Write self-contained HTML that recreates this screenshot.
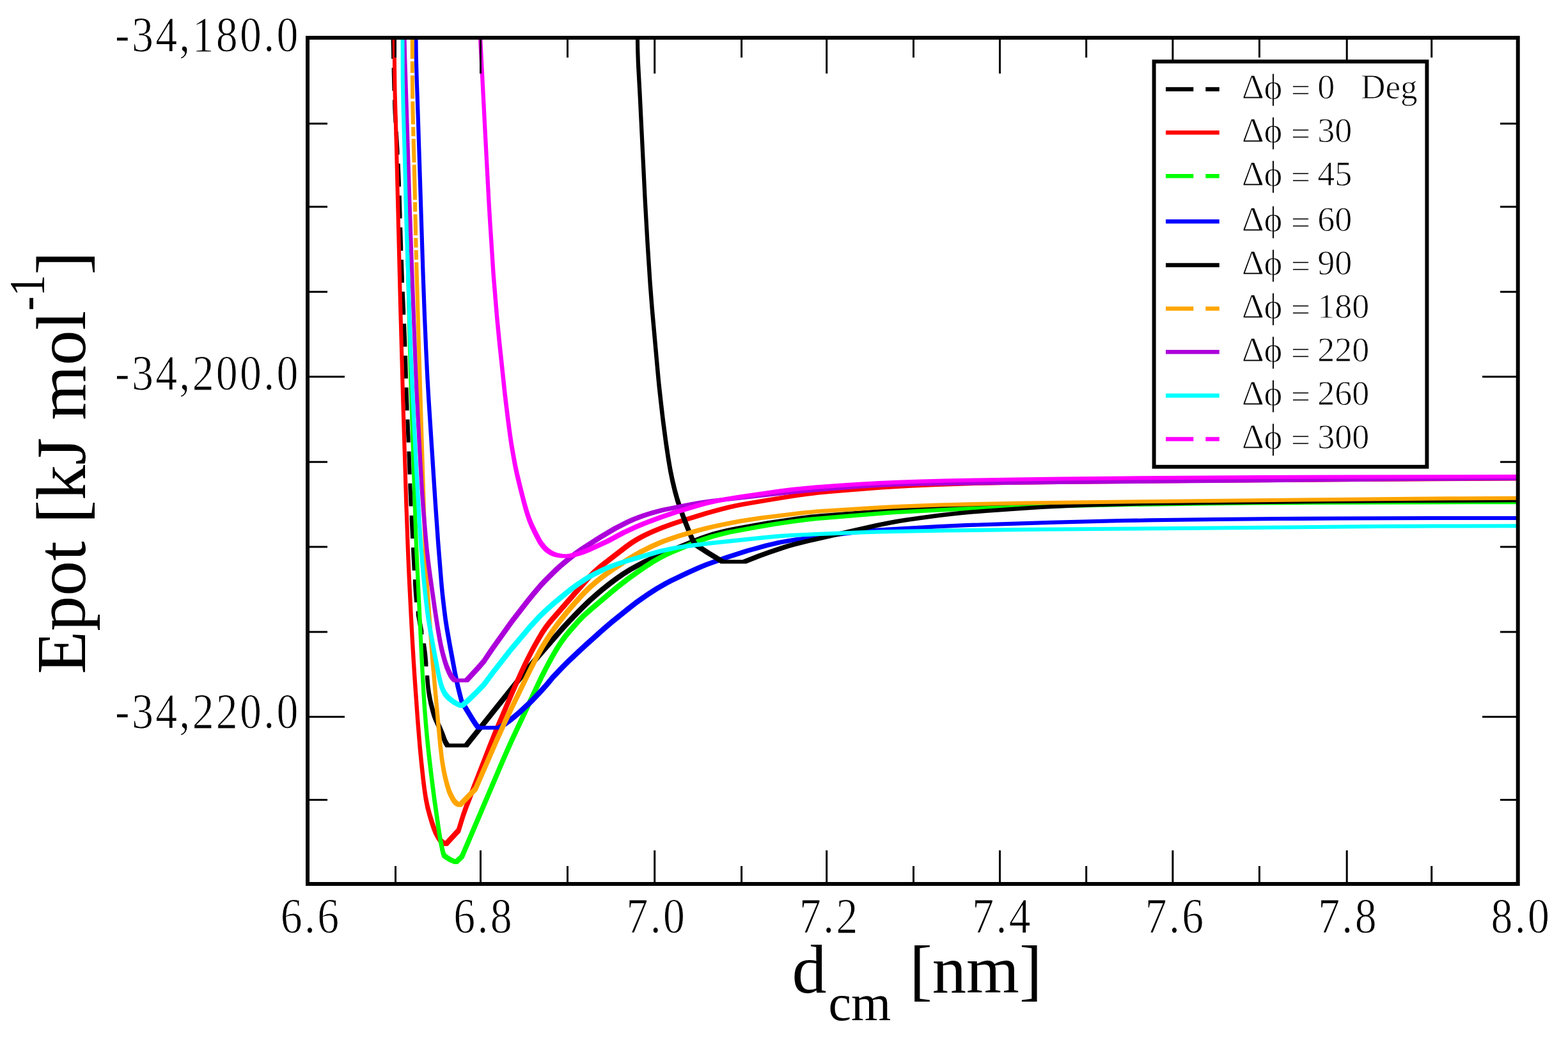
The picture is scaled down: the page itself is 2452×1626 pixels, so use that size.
<!DOCTYPE html>
<html lang="en">
<head>
<meta charset="utf-8">
<title>Epot vs d_cm</title>
<style>
html,body{margin:0;padding:0;background:#fff;}
body{width:2452px;height:1626px;overflow:hidden;}
svg{display:block;}
text{font-family:"Liberation Serif","DejaVu Serif",serif;fill:#000;white-space:pre;}
.cv path{stroke:none;}
</style>
</head>
<body>
<svg width="2452" height="1626" viewBox="0 0 2452 1626">
<rect width="2452" height="1626" fill="#fff"/>
<defs><clipPath id="pc"><rect x="481" y="59" width="1892.7" height="1323"/></clipPath></defs>
<g class="cv" clip-path="url(#pc)">
<path d="M611.3 47h6l0.9 39v6h-6l-0.9 -39zM612.7 106h6l0.7 29.9v6h-6l-0.7 -29.9zM614 155.9h6l0.6 15v6h-6l-0.6 -15zM614.6 170.9h6l0.9 15v6h-6l-0.9 -15zM616.8 205.8h6l1.8 30v6h-6l-1.8 -30zM619.7 255.7h6l1.3 30v6h-6l-1.3 -30zM621.7 305.7h6l0.9 29.9v6h-6l-0.9 -29.9zM623.2 355.6h6l1 30.5v6h-6l-1 -30.5zM624.9 406.1h6l1.1 29.9v6h-6l-1.1 -29.9zM626.8 456h6l1.4 30v6h-6l-1.4 -30zM629.1 505.9h6l1.2 30v6h-6l-1.2 -30zM631 555.9h6l0.9 29.9v6h-6l-0.9 -29.9zM632.5 605.8h6l1.1 30v6h-6l-1.1 -30zM634.4 655.8h6l1.3 29.9v6h-6l-1.3 -29.9zM636.5 705.7h6l1.1 30v6h-6l-1.1 -30zM638.3 755.7h6l1.3 29.9v6h-6l-1.3 -29.9zM640.6 806.1h6l1.5 29.9v6h-6l-1.5 -29.9zM643.1 856h6l1.6 29.9v6h-6l-1.6 -29.9zM645.9 905.9h6l1.1 17v6h-6l-1.1 -17zM647 922.9h6l1.1 12.9v6h-6l-1.1 -12.9zM650.7 955.6h6l5.7 30.5v6h-6l-5.7 -30.5zM659.9 1005.8h6l2 14.3v6h-6l-2 -14.3zM661.9 1020.1h6l1.5 15.9v6h-6l-1.5 -15.9zM665.1 1056h6l1.4 15.9v6h-6l-1.4 -15.9zM666.5 1071.9h6l1.5 10.9v6h-6l-1.5 -10.9zM668 1082.8h6l2.4 12.2v6h-6l-2.4 -12.2zM670.4 1095h6l3.3 13.1v6h-6l-3.3 -13.1zM673.7 1108.1h6l1.7 5.7v6h-6l-1.7 -5.7zM675.4 1113.8h6l2.1 5.6v6h-6l-2.1 -5.6zM677.5 1119.4h6l8.6 19.1v6h-6l-8.6 -19.1zM686.1 1138.5h6l3 7.3v6h-6l-3 -7.3zM689.1 1145.8h6l3.6 9.6v6h-6l-3.6 -9.6zM692.7 1155.4h6l1.8 3.7v6h-6l-1.8 -3.7zM694.5 1159.1h6l2.3 3.5v6h-6l-2.3 -3.5zM696.8 1162.6h35.2v6h-35.2zM726 1162.6l78 -97.7h6v6l-78 97.7h-6zM804 1064.9l14.1 -17.5h6v6l-14.1 17.5h-6zM818.1 1047.4l15.5 -18.3h6v6l-15.5 18.3h-6zM833.6 1029.1l43.9 -50.6h6v6l-43.9 50.6h-6zM877.5 978.5l9.5 -10.3h6v6l-9.5 10.3h-6zM887 968.2l12.5 -12.9h6v6l-12.5 12.9h-6zM899.5 955.3l10.2 -10.3h6v6l-10.2 10.3h-6zM909.7 945l9.4 -8.9h6v6l-9.4 8.9h-6zM919.1 936.1l9.3 -8.4h6v6l-9.3 8.4h-6zM928.4 927.7l9.9 -8.4h6v6l-9.9 8.4h-6zM938.3 919.3l11.3 -9.1h6v6l-11.3 9.1h-6zM949.6 910.2l9.6 -7.3h6v6l-9.6 7.3h-6zM959.2 902.9l11 -7.6h6v6l-11 7.6h-6zM970.2 895.3l12.3 -7.8h6v6l-12.3 7.8h-6zM982.5 887.5l11.8 -6.6h6v6l-11.8 6.6h-6zM994.3 880.9l12 -6.1h6v6l-12 6.1h-6zM1006.3 874.8l12.3 -5.6h6v6l-12.3 5.6h-6zM1018.6 869.2l16.5 -7h6v6l-16.5 7h-6zM1035.1 862.2l49.6 -20.3h6v6l-49.6 20.3h-6zM1084.7 841.9l10.2 -3.9h6v6l-10.2 3.9h-6zM1094.9 838l9.5 -3.3h6v6l-9.5 3.3h-6zM1104.4 834.7l10 -3.1h6v6l-10 3.1h-6zM1114.4 831.6l10.6 -2.8h6v6l-10.6 2.8h-6zM1125 828.8l10.2 -2.5h6v6l-10.2 2.5h-6zM1135.2 826.3l9.8 -2.1h6v6l-9.8 2.1h-6zM1145 824.2l11.8 -2.2h6v6l-11.8 2.2h-6zM1156.8 822l28 -5.1h6v6l-28 5.1h-6zM1184.8 816.9l16.8 -2.9h6v6l-16.8 2.9h-6zM1201.6 814l17.3 -2.6h6v6l-17.3 2.6h-6zM1218.9 811.4l28.2 -4.1h6v6l-28.2 4.1h-6zM1247.1 807.3l11.9 -1.6h6v6l-11.9 1.6h-6zM1259 805.7l9.9 -1.1h6v6l-9.9 1.1h-6zM1268.9 804.6l14.4 -1.3h6v6l-14.4 1.3h-6zM1283.3 803.3l99.2 -7.8h6v6l-99.2 7.8h-6zM1382.5 795.5l34.4 -2.2h6v6l-34.4 2.2h-6zM1416.9 793.3l46.5 -2.3h6v6l-46.5 2.3h-6zM1463.4 791l47.9 -1.9h6v6l-47.9 1.9h-6zM1511.3 789.1l53 -1.8h6v6l-53 1.8h-6zM1564.3 787.3l51.4 -1.3h6v6l-51.4 1.3h-6zM1615.7 786l57.5 -1.2h6v6l-57.5 1.2h-6zM1673.2 784.8l67.5 -1.1h6v6l-67.5 1.1h-6zM1740.7 783.7l64 -0.8h6v6l-64 0.8h-6zM1804.7 782.9l362.9 -2.7h6v6l-362.9 2.7h-6zM2167.6 780.2l209.4 -0.9h6v6l-209.4 0.9h-6z" fill="#000000"/>
<path d="M613.6 47h6l0.4 58v6h-6l-0.4 -58zM614 105h6l0.6 38.5v6h-6l-0.6 -38.5zM614.6 143.5h6l2.2 76.9v6h-6l-2.2 -76.9zM616.8 220.4h6l6.1 246.9v6h-6l-6.1 -246.9zM622.9 467.3h6l4.2 151.3v6h-6l-4.2 -151.3zM627.1 618.6h6l5.1 163.9v6h-6l-5.1 -163.9zM632.2 782.5h6l2.9 79.4v6h-6l-2.9 -79.4zM635.1 861.9h6l1.7 39v6h-6l-1.7 -39zM636.8 900.9h6l3 59.9v6h-6l-3 -59.9zM639.8 960.8h6l2 36.4v6h-6l-2 -36.4zM641.8 997.2h6l2 33.5v6h-6l-2 -33.5zM643.8 1030.7h6l1.9 29.4v6h-6l-1.9 -29.4zM645.7 1060.1h6l4.6 64.3v6h-6l-4.6 -64.3zM650.3 1124.4h6l3.4 41.3v6h-6l-3.4 -41.3zM653.7 1165.7h6l2.2 22.9v6h-6l-2.2 -22.9zM655.9 1188.6h6l3.1 28.4v6h-6l-3.1 -28.4zM659 1217h6l1.9 15.3v6h-6l-1.9 -15.3zM660.9 1232.3h6l1.9 12.4v6h-6l-1.9 -12.4zM662.8 1244.7h6l2.5 12.7v6h-6l-2.5 -12.7zM665.3 1257.4h6l3.4 13.1v6h-6l-3.4 -13.1zM668.7 1270.5h6l4.5 14.8v6h-6l-4.5 -14.8zM673.2 1285.3h6l2.2 6.1v6h-6l-2.2 -6.1zM675.4 1291.4h6l2 5.1v6h-6l-2 -5.1zM677.4 1296.5h6l1.9 4v6h-6l-1.9 -4zM679.3 1300.5h6l2.3 4.3v6h-6l-2.3 -4.3zM681.6 1304.8h6l2 3.2v6h-6l-2 -3.2zM683.6 1308h6l2 2.8v6h-6l-2 -2.8zM685.6 1310.8h6l1.7 1.8v6h-6l-1.7 -1.8zM687.3 1312.6h6l1.9 1.5v6h-6l-1.9 -1.5zM689.2 1314.1h6l2.2 1.4v6h-6l-2.2 -1.4zM691.4 1315.5h6l2.4 1.1v6h-6l-2.4 -1.1zM693.8 1316.6h6l0.5 0.2v6h-6l-0.5 -0.2zM694.3 1316.8l11.5 -12.6h6v6l-11.5 12.6h-6zM705.8 1304.2l8.2 -8.7h6v6l-8.2 8.7h-6zM714 1295.5l7.4 -23.9h6v6l-7.4 23.9h-6zM721.4 1271.6l4.4 -12.7h6v6l-4.4 12.7h-6zM725.8 1258.9l37.3 -96h6v6l-37.3 96h-6zM763.1 1162.9l8.4 -20.9h6v6l-8.4 20.9h-6zM771.5 1142l25.9 -60.7h6v6l-25.9 60.7h-6zM797.4 1081.3l8.1 -18.3h6v6l-8.1 18.3h-6zM805.5 1063l7.2 -16h6v6l-7.2 16h-6zM812.7 1047l5.9 -12.6h6v6l-5.9 12.6h-6zM818.6 1034.4l6.3 -12.5h6v6l-6.3 12.5h-6zM824.9 1021.9l6.8 -12.9h6v6l-6.8 12.9h-6zM831.7 1009l7.1 -12.6h6v6l-7.1 12.6h-6zM838.8 996.4l6.2 -10.3h6v6l-6.2 10.3h-6zM845 986.1l5.6 -8.3h6v6l-5.6 8.3h-6zM850.6 977.8l4.8 -6.3h6v6l-4.8 6.3h-6zM855.4 971.5l5.4 -6.6h6v6l-5.4 6.6h-6zM860.8 964.9l55 -62.8h6v6l-55 62.8h-6zM915.8 902.1l5.2 -5.4h6v6l-5.2 5.4h-6zM921 896.7l4.9 -4.9h6v6l-4.9 4.9h-6zM925.9 891.8l5.6 -5.1h6v6l-5.6 5.1h-6zM931.5 886.7l6.1 -5.1h6v6l-6.1 5.1h-6zM937.6 881.6l39.2 -30.4h6v6l-39.2 30.4h-6zM976.8 851.2l7.7 -5.4h6v6l-7.7 5.4h-6zM984.5 845.8l8 -5h6v6l-8 5h-6zM992.5 840.8l5.7 -3.2h6v6l-5.7 3.2h-6zM998.2 837.6l6.2 -3.3h6v6l-6.2 3.3h-6zM1004.4 834.3l6.7 -3.2h6v6l-6.7 3.2h-6zM1011.1 831.1l7.3 -3.3h6v6l-7.3 3.3h-6zM1018.4 827.8l15.3 -6.3h6v6l-15.3 6.3h-6zM1033.7 821.5l16 -5.8h6v6l-16 5.8h-6zM1049.7 815.7l12.8 -4.1h6v6l-12.8 4.1h-6zM1062.5 811.6l40.7 -12.5h6v6l-40.7 12.5h-6zM1103.2 799.1l18.2 -5.2h6v6l-18.2 5.2h-6zM1121.4 793.9l14.6 -3.7h6v6l-14.6 3.7h-6zM1136 790.2l11.2 -2.5h6v6l-11.2 2.5h-6zM1147.2 787.7l12.8 -2.4h6v6l-12.8 2.4h-6zM1160 785.3l34 -5.8h6v6l-34 5.8h-6zM1194 779.5l29.1 -4.8h6v6l-29.1 4.8h-6zM1223.1 774.7l17.3 -2.7h6v6l-17.3 2.7h-6zM1240.4 772l16.8 -2.3h6v6l-16.8 2.3h-6zM1257.2 769.7l15.9 -1.9h6v6l-15.9 1.9h-6zM1273.1 767.8l15.9 -1.6h6v6l-15.9 1.6h-6zM1289 766.2l20.9 -1.7h6v6l-20.9 1.7h-6zM1309.9 764.5l62.9 -4.9h6v6l-62.9 4.9h-6zM1372.8 759.6l20.9 -1.4h6v6l-20.9 1.4h-6zM1393.7 758.2l25.5 -1.5h6v6l-25.5 1.5h-6zM1419.2 756.7l41.4 -1.8h6v6l-41.4 1.8h-6zM1460.6 754.9l59 -1.8h6v6l-59 1.8h-6zM1519.6 753.1l51 -1.1h6v6l-51 1.1h-6zM1570.6 752l77.5 -1.1h6v6l-77.5 1.1h-6zM1648.1 750.9l172.4 -1.6h6v6l-172.4 1.6h-6zM1820.5 749.3l307 -2.3h6v6l-307 2.3h-6zM2127.5 747l249.5 -1.5h6v6l-249.5 1.5h-6z" fill="#ff0000"/>
<path d="M627.3 47h6l1.5 87v6h-6l-1.5 -87zM628.8 134h6l1.8 88.9v6h-6l-1.8 -88.9zM630.6 222.9h6l7 304.9v6h-6l-7 -304.9zM637.6 527.8h6l1.8 65v6h-6l-1.8 -65zM639.4 592.8h6l7.1 216.9v6h-6l-7.1 -216.9zM646.5 809.7h6l1.3 37.4v6h-6l-1.3 -37.4zM647.8 847.1h6l8.7 179.8v6h-6l-8.7 -179.8zM656.5 1026.9h6l2.8 51.4v6h-6l-2.8 -51.4zM659.3 1078.3h6l1.7 25.9v6h-6l-1.7 -25.9zM661 1104.2h6l2 25v6h-6l-2 -25zM663 1129.2h6l2.2 24.4v6h-6l-2.2 -24.4zM665.2 1153.6h6l2.3 21.8v6h-6l-2.3 -21.8zM667.5 1175.4h6l4.6 38.8v6h-6l-4.6 -38.8zM672.1 1214.2h6l4 31.2v6h-6l-4 -31.2zM676.1 1245.4h6l7 49v6h-6l-7 -49zM683.1 1294.4h6l2.5 15.8v6h-6l-2.5 -15.8zM685.6 1310.2h6l3 14.9v6h-6l-3 -14.9zM688.6 1325.1h6l1.1 4.4v6h-6l-1.1 -4.4zM689.7 1329.5h6l1.6 5v6h-6l-1.6 -5zM691.3 1334.5h6l2.9 2.2v6h-6l-2.9 -2.2zM694.2 1336.7h6l3 2v6h-6l-3 -2zM697.2 1338.7h6l5.7 3.2v6h-6l-5.7 -3.2zM702.9 1341.9h6l3.7 1.7v6h-6l-3.7 -1.7zM706.6 1343.6h6l3.4 1.3v6h-6l-3.4 -1.3zM710 1344.9l9.5 -8.9h6v6l-9.5 8.9h-6zM719.5 1336l61.9 -145.4h6v6l-61.9 145.4h-6zM781.4 1190.6l8.7 -20.2h6v6l-8.7 20.2h-6zM790.1 1170.4l7.4 -16.3h6v6l-7.4 16.3h-6zM797.5 1154.1l40.1 -85.6h6v6l-40.1 85.6h-6zM837.6 1068.5l5.8 -12.2h6v6l-5.8 12.2h-6zM843.4 1056.3l6.1 -12.1h6v6l-6.1 12.1h-6zM849.5 1044.2l5.8 -11h6v6l-5.8 11h-6zM855.3 1033.2l5.6 -10.1h6v6l-5.6 10.1h-6zM860.9 1023.1l5.5 -9.5h6v6l-5.5 9.5h-6zM866.4 1013.6l5.3 -8.5h6v6l-5.3 8.5h-6zM871.7 1005.1l4.8 -7h6v6l-4.8 7h-6zM876.5 998.1l5 -6.8h6v6l-5 6.8h-6zM881.5 991.3l8 -9.6h6v6l-8 9.6h-6zM889.5 981.7l11.6 -13.1h6v6l-11.6 13.1h-6zM901.1 968.6l8 -8.3h6v6l-8 8.3h-6zM909.1 960.3l7.7 -7.1h6v6l-7.7 7.1h-6zM916.8 953.2l32.8 -27.7h6v6l-32.8 27.7h-6zM949.6 925.5l13.5 -11.2h6v6l-13.5 11.2h-6zM963.1 914.3l16.3 -12.5h6v6l-16.3 12.5h-6zM979.4 901.8l15.4 -11.1h6v6l-15.4 11.1h-6zM994.8 890.7l12.4 -8.5h6v6l-12.4 8.5h-6zM1007.2 882.2l10.5 -6.7h6v6l-10.5 6.7h-6zM1017.7 875.5l9.1 -5.3h6v6l-9.1 5.3h-6zM1026.8 870.2l8.8 -4.6h6v6l-8.8 4.6h-6zM1035.6 865.6l12.7 -5.8h6v6l-12.7 5.8h-6zM1048.3 859.8l30.6 -12.6h6v6l-30.6 12.6h-6zM1078.9 847.2l11.1 -4.5h6v6l-11.1 4.5h-6zM1090 842.7l9.4 -3.3h6v6l-9.4 3.3h-6zM1099.4 839.4l11.4 -3.6h6v6l-11.4 3.6h-6zM1110.8 835.8l12.6 -3.4h6v6l-12.6 3.4h-6zM1123.4 832.4l12.2 -2.9h6v6l-12.2 2.9h-6zM1135.6 829.5l13.2 -2.6h6v6l-13.2 2.6h-6zM1148.8 826.9l36.9 -6.6h6v6l-36.9 6.6h-6zM1185.7 820.3l22.2 -3.7h6v6l-22.2 3.7h-6zM1207.9 816.6l25.7 -3.8h6v6l-25.7 3.8h-6zM1233.6 812.8l24.8 -3.3h6v6l-24.8 3.3h-6zM1258.4 809.5l11.4 -1.2h6v6l-11.4 1.2h-6zM1269.8 808.3l12.5 -1.1h6v6l-12.5 1.1h-6zM1282.3 807.2l72.7 -6h6v6l-72.7 6h-6zM1355 801.2l33.4 -2.6h6v6l-33.4 2.6h-6zM1388.4 798.6l37.4 -2.2h6v6l-37.4 2.2h-6zM1425.8 796.4l68.5 -3.4h6v6l-68.5 3.4h-6zM1494.3 793l30.9 -1.2h6v6l-30.9 1.2h-6zM1525.2 791.8l38 -1.3h6v6l-38 1.3h-6zM1563.2 790.5l87.9 -2.3h6v6l-87.9 2.3h-6zM1651.1 788.2l99 -2h6v6l-99 2h-6zM1750.1 786.2l109 -1.5h6v6l-109 1.5h-6zM1859.1 784.7l95 -1.1h6v6l-95 1.1h-6zM1954.1 783.6l83 -0.5h6v6l-83 0.5h-6zM2037.1 783.1l187.4 -0.7h6v6l-187.4 0.7h-6zM2224.5 782.4l152.5 -0.2h6v6l-152.5 0.2h-6z" fill="#00ff00"/>
<path d="M647.4 47h6l0.4 39.5v6h-6l-0.4 -39.5zM647.8 86.5h6l0.8 31.5v6h-6l-0.8 -31.5zM648.6 118h6l1.9 54.5v6h-6l-1.9 -54.5zM650.5 172.5h6l8.1 253.8v6h-6l-8.1 -253.8zM658.6 426.3h6l2.3 63v6h-6l-2.3 -63zM660.9 489.3h6l2.5 57.4v6h-6l-2.5 -57.4zM663.4 546.7h6l1.9 39v6h-6l-1.9 -39zM665.3 585.7h6l2 34.9v6h-6l-2 -34.9zM667.3 620.6h6l10.6 164.2v6h-6l-10.6 -164.2zM677.9 784.8h6l4.3 61.3v6h-6l-4.3 -61.3zM682.2 846.1h6l5.3 65.3v6h-6l-5.3 -65.3zM687.5 911.4h6l1.7 17.4v6h-6l-1.7 -17.4zM689.2 928.8h6l2.7 22.9v6h-6l-2.7 -22.9zM691.9 951.7h6l1.9 14.8v6h-6l-1.9 -14.8zM693.8 966.5h6l2.1 13.4v6h-6l-2.1 -13.4zM695.9 979.9h6l5.2 29.5v6h-6l-5.2 -29.5zM701.1 1009.4h6l7.9 42.3v6h-6l-7.9 -42.3zM709 1051.7h6l3.3 15.6v6h-6l-3.3 -15.6zM712.3 1067.3h6l3.9 15.8v6h-6l-3.9 -15.8zM716.2 1083.1h6l2.8 10.9v6h-6l-2.8 -10.9zM719 1094h6l17.9 29.2v6h-6l-17.9 -29.2zM736.9 1123.2h6l3.8 5.7v6h-6l-3.8 -5.7zM740.7 1128.9h6l4.3 5.9v6h-6l-4.3 -5.9zM745 1134.8h39v6h-39zM778 1134.8l8.1 -5.5h6v6l-8.1 5.5h-6zM786.1 1129.3l8.6 -6.4h6v6l-8.6 6.4h-6zM794.7 1122.9l7.3 -5.9h6v6l-7.3 5.9h-6zM802 1117l7.6 -6.5h6v6l-7.6 6.5h-6zM809.6 1110.5l8.1 -7.4h6v6l-8.1 7.4h-6zM817.7 1103.1l8.3 -7.9h6v6l-8.3 7.9h-6zM826 1095.2l7.3 -7.5h6v6l-7.3 7.5h-6zM833.3 1087.7l7.6 -7.9h6v6l-7.6 7.9h-6zM840.9 1079.8l11.5 -12.9h6v6l-11.5 12.9h-6zM852.4 1066.9l9 -10.9h6v6l-9 10.9h-6zM861.4 1056l15.3 -15.9h6v6l-15.3 15.9h-6zM876.7 1040.1l9.5 -9.5h6v6l-9.5 9.5h-6zM886.2 1030.6l10.1 -9.7h6v6l-10.1 9.7h-6zM896.3 1020.9l16.1 -14.9h6v6l-16.1 14.9h-6zM912.4 1006l14.5 -13.1h6v6l-14.5 13.1h-6zM926.9 992.9l13.1 -11.6h6v6l-13.1 11.6h-6zM940 981.3l13.7 -11.7h6v6l-13.7 11.7h-6zM953.7 969.6l14.3 -11.7h6v6l-14.3 11.7h-6zM968 957.9l13.7 -10.9h6v6l-13.7 10.9h-6zM981.7 947l10.3 -7.9h6v6l-10.3 7.9h-6zM992 939.1l10.6 -7.6h6v6l-10.6 7.6h-6zM1002.6 931.5l10.7 -7.3h6v6l-10.7 7.3h-6zM1013.3 924.2l10.1 -6.5h6v6l-10.1 6.5h-6zM1023.4 917.7l7.3 -4.3h6v6l-7.3 4.3h-6zM1030.7 913.4l7.4 -4.1h6v6l-7.4 4.1h-6zM1038.1 909.3l8 -4.2h6v6l-8 4.2h-6zM1046.1 905.1l9 -4.4h6v6l-9 4.4h-6zM1055.1 900.7l17.2 -8.2h6v6l-17.2 8.2h-6zM1072.3 892.5l12.2 -5.6h6v6l-12.2 5.6h-6zM1084.5 886.9l9.7 -4.2h6v6l-9.7 4.2h-6zM1094.2 882.7l8.8 -3.5h6v6l-8.8 3.5h-6zM1103 879.2l12.7 -4.5h6v6l-12.7 4.5h-6zM1115.7 874.7l18.4 -6.4h6v6l-18.4 6.4h-6zM1134.1 868.3l31.9 -10.2h6v6l-31.9 10.2h-6zM1166 858.1l13 -3.7h6v6l-13 3.7h-6zM1179 854.4l16.9 -4.6h6v6l-16.9 4.6h-6zM1195.9 849.8l9.7 -2.4h6v6l-9.7 2.4h-6zM1205.6 847.4l10.7 -2.3h6v6l-10.7 2.3h-6zM1216.3 845.1l15.8 -2.9h6v6l-15.8 2.9h-6zM1232.1 842.2l14.3 -2.1h6v6l-14.3 2.1h-6zM1246.4 840.1l99.7 -12.3h6v6l-99.7 12.3h-6zM1346.1 827.8l17.4 -1.8h6v6l-17.4 1.8h-6zM1363.5 826l24 -1.6h6v6l-24 1.6h-6zM1387.5 824.4l80.3 -4.4h6v6l-80.3 4.4h-6zM1467.8 820l43 -1.9h6v6l-43 1.9h-6zM1510.8 818.1l55.4 -1.9h6v6l-55.4 1.9h-6zM1566.2 816.2l78 -2.4h6v6l-78 2.4h-6zM1644.2 813.8l107.4 -2.7h6v6l-107.4 2.7h-6zM1751.6 811.1l46.5 -0.8h6v6l-46.5 0.8h-6zM1798.1 810.3l100.5 -1.3h6v6l-100.5 1.3h-6zM1898.6 809l98 -0.9h6v6l-98 0.9h-6zM1996.6 808.1l90 -0.6h6v6l-90 0.6h-6zM2086.6 807.5l152.4 -0.4h6v6l-152.4 0.4h-6zM2239 807.1l138 -0.1h6v6l-138 0.1h-6z" fill="#0000ff"/>
<path d="M993.8 47h6l0.4 27v6h-6l-0.4 -27zM994.2 74h6l0.7 21.5v6h-6l-0.7 -21.5zM994.9 95.5h6l2.6 47.4v6h-6l-2.6 -47.4zM997.5 142.9h6l8.3 168.3v6h-6l-8.3 -168.3zM1005.8 311.2h6l3.7 65.3v6h-6l-3.7 -65.3zM1009.5 376.5h6l4.2 64.4v6h-6l-4.2 -64.4zM1013.7 440.9h6l3.1 39.8v6h-6l-3.1 -39.8zM1016.8 480.7h6l8.9 99.1v6h-6l-8.9 -99.1zM1025.7 579.8h6l1.8 18.9v6h-6l-1.8 -18.9zM1027.5 598.7h6l3.7 33.3v6h-6l-3.7 -33.3zM1031.2 632h6l2.7 22.9v6h-6l-2.7 -22.9zM1033.9 654.9h6l4.7 35.6v6h-6l-4.7 -35.6zM1038.6 690.5h6l3.4 22.8v6h-6l-3.4 -22.8zM1042 713.3h6l3.1 18.2v6h-6l-3.1 -18.2zM1045.1 731.5h6l3.3 16.2v6h-6l-3.3 -16.2zM1048.4 747.7h6l3.8 16v6h-6l-3.8 -16zM1052.2 763.7h6l4 14.5v6h-6l-4 -14.5zM1056.2 778.2h6l4.3 13.3v6h-6l-4.3 -13.3zM1060.5 791.5h6l6.6 17.8v6h-6l-6.6 -17.8zM1067.1 809.3h6l7.5 19v6h-6l-7.5 -19zM1074.6 828.3h6l4 9.5v6h-6l-4 -9.5zM1078.6 837.8h6l2.1 4.5v6h-6l-2.1 -4.5zM1080.7 842.3h6l3.8 6.2v6h-6l-3.8 -6.2zM1084.5 848.5h6l18.8 12.2v6h-6l-18.8 -12.2zM1103.3 860.7h6l23.7 14.6v6h-6l-23.7 -14.6zM1127 875.3h40v6h-40zM1161 875.3l22.8 -9h6v6l-22.8 9h-6zM1183.8 866.3l16 -5.8h6v6l-16 5.8h-6zM1199.8 860.5l20.8 -7.1h6v6l-20.8 7.1h-6zM1220.6 853.4l8.6 -2.6h6v6l-8.6 2.6h-6zM1229.2 850.8l8.2 -2.3h6v6l-8.2 2.3h-6zM1237.4 848.5l19.9 -4.9h6v6l-19.9 4.9h-6zM1257.3 843.6l71.6 -16.4h6v6l-71.6 16.4h-6zM1328.9 827.2l41 -9.1h6v6l-41 9.1h-6zM1369.9 818.1l17.6 -3.7h6v6l-17.6 3.7h-6zM1387.5 814.4l13.3 -2.4h6v6l-13.3 2.4h-6zM1400.8 812l14.3 -2.3h6v6l-14.3 2.3h-6zM1415.1 809.7l26.8 -3.7h6v6l-26.8 3.7h-6zM1441.9 806l20.3 -2.7h6v6l-20.3 2.7h-6zM1462.2 803.3l18.9 -2.2h6v6l-18.9 2.2h-6zM1481.1 801.1l18.9 -2h6v6l-18.9 2h-6zM1500 799.1l16.4 -1.5h6v6l-16.4 1.5h-6zM1516.4 797.6l19.4 -1.6h6v6l-19.4 1.6h-6zM1535.8 796l57.4 -4.1h6v6l-57.4 4.1h-6zM1593.2 791.9l30.4 -1.8h6v6l-30.4 1.8h-6zM1623.6 790.1l25 -1.3h6v6l-25 1.3h-6zM1648.6 788.8l35 -1.5h6v6l-35 1.5h-6zM1683.6 787.3l31 -1.1h6v6l-31 1.1h-6zM1714.6 786.2l67.9 -1.6h6v6l-67.9 1.6h-6zM1782.5 784.6l110 -1.7h6v6l-110 1.7h-6zM1892.5 782.9l179.5 -2h6v6l-179.5 2h-6zM2072 780.9l133.5 -0.9h6v6l-133.5 0.9h-6zM2205.5 780l171.5 -0.7h6v6l-171.5 0.7h-6z" fill="#000000"/>
<path d="M641.7 47h6l0.1 39v6h-6l-0.1 -39zM641.8 96h6v18h-6zM641.9 118h6l0.2 30.5v6h-6l-0.2 -30.5zM642.3 158.5h6l0.6 30v6h-6l-0.6 -30zM643.2 198.5h6l0.2 8.5v6h-6l-0.2 -8.5zM643.7 217h6l0.8 31v6h-6l-0.8 -31zM644.8 257.5h6l1.1 49v6h-6l-1.1 -49zM646.1 316h6l0.1 8.9v6h-6l-0.1 -8.9zM646.5 334.9h6l0.6 27v6h-6l-0.6 -27zM647.3 371.9h6l0.2 9v6h-6l-0.2 -9zM647.7 390.9h6l0.3 9v6h-6l-0.3 -9zM648.2 409.9h6l3.3 111v6h-6l-3.3 -111zM651.5 520.9h6l10.8 348.8v6h-6l-10.8 -348.8zM662.3 869.7h6l0.7 14v6h-6l-0.7 -14zM663 883.7h6l0.8 13.5v6h-6l-0.8 -13.5zM663.8 897.2h6l9.2 127.6v6h-6l-9.2 -127.6zM673 1024.8h6l8.7 97.1v6h-6l-8.7 -97.1zM681.7 1121.9h6l3.3 35.9v6h-6l-3.3 -35.9zM685 1157.8h6l2.7 23.8v6h-6l-2.7 -23.8zM687.7 1181.6h6l1.4 9.4v6h-6l-1.4 -9.4zM689.1 1191h6l1.6 9.4v6h-6l-1.6 -9.4zM690.7 1200.4h6l2.4 11.7v6h-6l-2.4 -11.7zM693.1 1212.1h6l2.6 10.2v6h-6l-2.6 -10.2zM695.7 1222.3h6l2.9 9.6v6h-6l-2.9 -9.6zM698.6 1231.9h6l2.7 6.9v6h-6l-2.7 -6.9zM701.3 1238.8h6l3.8 7.3v6h-6l-3.8 -7.3zM705.1 1246.1h6l1.5 2.4v6h-6l-1.5 -2.4zM706.6 1248.5h6l1.8 2.3v6h-6l-1.8 -2.3zM708.4 1250.8h6l1.7 1.8v6h-6l-1.7 -1.8zM710.1 1252.6h6l1.7 1.2v6h-6l-1.7 -1.2zM711.8 1253.8h6l2.2 1.3v6h-6l-2.2 -1.3zM714 1255.1h6l2 0.7v6h-6l-2 -0.7zM716 1255.8l24.5 -25.3h6v6l-24.5 25.3h-6zM740.5 1230.5l33.6 -77h6v6l-33.6 77h-6zM774.1 1153.5l12.9 -28.7h6v6l-12.9 28.7h-6zM787 1124.8l6.2 -13.1h6v6l-6.2 13.1h-6zM793.2 1111.7l28.4 -58.5h6v6l-28.4 58.5h-6zM821.6 1053.2l13.2 -26.3h6v6l-13.2 26.3h-6zM834.8 1026.9l5.5 -10.2h6v6l-5.5 10.2h-6zM840.3 1016.7l5.2 -9.1h6v6l-5.2 9.1h-6zM845.5 1007.6l5.5 -8.9h6v6l-5.5 8.9h-6zM851 998.7l6 -9.2h6v6l-6 9.2h-6zM857 989.5l6.9 -9.8h6v6l-6.9 9.8h-6zM863.9 979.7l6.8 -9.3h6v6l-6.8 9.3h-6zM870.7 970.4l7.4 -9.4h6v6l-7.4 9.4h-6zM878.1 961l7.9 -9.7h6v6l-7.9 9.7h-6zM886 951.3l11.8 -13.6h6v6l-11.8 13.6h-6zM897.8 937.7l10.4 -11.4h6v6l-10.4 11.4h-6zM908.2 926.3l9.2 -9.2h6v6l-9.2 9.2h-6zM917.4 917.1l9.3 -8.4h6v6l-9.3 8.4h-6zM926.7 908.7l8.9 -7.3h6v6l-8.9 7.3h-6zM935.6 901.4l10 -7.4h6v6l-10 7.4h-6zM945.6 894l10.7 -7.4h6v6l-10.7 7.4h-6zM956.3 886.6l20 -13.3h6v6l-20 13.3h-6zM976.3 873.3l11.5 -7.1h6v6l-11.5 7.1h-6zM987.8 866.2l11.3 -6.4h6v6l-11.3 6.4h-6zM999.1 859.8l12.4 -6.4h6v6l-12.4 6.4h-6zM1011.5 853.4l11.8 -5.5h6v6l-11.8 5.5h-6zM1023.3 847.9l10.6 -4.4h6v6l-10.6 4.4h-6zM1033.9 843.5l11.3 -4.1h6v6l-11.3 4.1h-6zM1045.2 839.4l13.3 -4.4h6v6l-13.3 4.4h-6zM1058.5 835l15.3 -4.6h6v6l-15.3 4.6h-6zM1073.8 830.4l15.9 -4.4h6v6l-15.9 4.4h-6zM1089.7 826l16.5 -4.2h6v6l-16.5 4.2h-6zM1106.2 821.8l17 -3.8h6v6l-17 3.8h-6zM1123.2 818l17.2 -3.6h6v6l-17.2 3.6h-6zM1140.4 814.4l15.7 -2.8h6v6l-15.7 2.8h-6zM1156.1 811.6l14.8 -2.4h6v6l-14.8 2.4h-6zM1170.9 809.2l16.3 -2.4h6v6l-16.3 2.4h-6zM1187.2 806.8l22.8 -2.9h6v6l-22.8 2.9h-6zM1210 803.9l44.7 -5.3h6v6l-44.7 5.3h-6zM1254.7 798.6l20.9 -2h6v6l-20.9 2h-6zM1275.6 796.6l87.8 -5.5h6v6l-87.8 5.5h-6zM1363.4 791.1l27 -1.5h6v6l-27 1.5h-6zM1390.4 789.6l21.9 -1.1h6v6l-21.9 1.1h-6zM1412.3 788.5l53 -1.9h6v6l-53 1.9h-6zM1465.3 786.6l57.5 -1.5h6v6l-57.5 1.5h-6zM1522.8 785.1l78.4 -1.5h6v6l-78.4 1.5h-6zM1601.2 783.6l94 -1.4h6v6l-94 1.4h-6zM1695.2 782.2l488.4 -5.3h6v6l-488.4 5.3h-6zM2183.6 776.9l81.9 -0.6h6v6l-81.9 0.6h-6zM2265.5 776.3l111.5 -0.5h6v6l-111.5 0.5h-6z" fill="#ffa500"/>
<path d="M629.5 47h6l0.3 23.5v6h-6l-0.3 -23.5zM629.8 70.5h6l0.5 20.5v6h-6l-0.5 -20.5zM630.3 91h6l1.7 51.4v6h-6l-1.7 -51.4zM632 142.4h6l5.5 172.9v6h-6l-5.5 -172.9zM637.5 315.3h6l3.2 90.9v6h-6l-3.2 -90.9zM640.7 406.2h6l6.3 168.8v6h-6l-6.3 -168.8zM647 575h6l1.7 38.5v6h-6l-1.7 -38.5zM648.7 613.5h6l5.8 109.8v6h-6l-5.8 -109.8zM654.5 723.3h6l2.3 39.4v6h-6l-2.3 -39.4zM656.8 762.7h6l2.1 29.4v6h-6l-2.1 -29.4zM658.9 792.1h6l4.3 50.3v6h-6l-4.3 -50.3zM663.2 842.4h6l1.9 19.4v6h-6l-1.9 -19.4zM665.1 861.8h6l1.9 16.4v6h-6l-1.9 -16.4zM667 878.2h6l3 22.3v6h-6l-3 -22.3zM670 900.5h6l6.7 47v6h-6l-6.7 -47zM676.7 947.5h6l4.7 30.6v6h-6l-4.7 -30.6zM681.4 978.1h6l3.3 19.2v6h-6l-3.3 -19.2zM684.7 997.3h6l2.2 11.3v6h-6l-2.2 -11.3zM686.9 1008.6h6l2.6 10.7v6h-6l-2.6 -10.7zM689.5 1019.3h6l3.2 11.5v6h-6l-3.2 -11.5zM692.7 1030.8h6l2.8 8.5v6h-6l-2.8 -8.5zM695.5 1039.3h6l3.5 8.2v6h-6l-3.5 -8.2zM699 1047.5h6l2.8 5.6v6h-6l-2.8 -5.6zM701.8 1053.1h6l3 4.1v6h-6l-3 -4.1zM704.8 1057.2h6l1.8 1.9v6h-6l-1.8 -1.9zM706.6 1059.1h6l1.9 1.7v6h-6l-1.9 -1.7zM708.5 1060.8h24v6h-24zM726.5 1060.8l4.3 -4.5h6v6l-4.3 4.5h-6zM730.8 1056.3l14.3 -15.5h6v6l-14.3 15.5h-6zM745.1 1040.8l8.9 -10.3h6v6l-8.9 10.3h-6zM754 1030.5l5.6 -8.6h6v6l-5.6 8.6h-6zM759.6 1021.9l7.5 -10.9h6v6l-7.5 10.9h-6zM767.1 1011l30 -41.9h6v6l-30 41.9h-6zM797.1 969.1l8.5 -11.1h6v6l-8.5 11.1h-6zM805.6 958l16.3 -20.9h6v6l-16.3 20.9h-6zM821.9 937.1l9.1 -11.3h6v6l-9.1 11.3h-6zM831 925.8l7 -8.4h6v6l-7 8.4h-6zM838 917.4l5.6 -6.4h6v6l-5.6 6.4h-6zM843.6 911l6.2 -6.5h6v6l-6.2 6.5h-6zM849.8 904.5l9.5 -9.6h6v6l-9.5 9.6h-6zM859.3 894.9l8 -7.6h6v6l-8 7.6h-6zM867.3 887.3l6.3 -5.7h6v6l-6.3 5.7h-6zM873.6 881.6l7.2 -6.2h6v6l-7.2 6.2h-6zM880.8 875.4l8.5 -6.9h6v6l-8.5 6.9h-6zM889.3 868.5l7.1 -5.5h6v6l-7.1 5.5h-6zM896.4 863l9.4 -6.7h6v6l-9.4 6.7h-6zM905.8 856.3l15 -9.9h6v6l-15 9.9h-6zM920.8 846.4l14.8 -9.4h6v6l-14.8 9.4h-6zM935.6 837l13.3 -8h6v6l-13.3 8h-6zM948.9 829l9.9 -5.7h6v6l-9.9 5.7h-6zM958.8 823.3l10.2 -5.4h6v6l-10.2 5.4h-6zM969 817.9l10.3 -5.1h6v6l-10.3 5.1h-6zM979.3 812.8l9.1 -4.1h6v6l-9.1 4.1h-6zM988.4 808.7l8.4 -3.3h6v6l-8.4 3.3h-6zM996.8 805.4l8.4 -3h6v6l-8.4 3h-6zM1005.2 802.4l9.6 -3h6v6l-9.6 3h-6zM1014.8 799.4l10.6 -2.9h6v6l-10.6 2.9h-6zM1025.4 796.5l9.7 -2.4h6v6l-9.7 2.4h-6zM1035.1 794.1l10.3 -2.2h6v6l-10.3 2.2h-6zM1045.4 791.9l33.9 -6.6h6v6l-33.9 6.6h-6zM1079.3 785.3l17.2 -3.1h6v6l-17.2 3.1h-6zM1096.5 782.2l16.3 -2.2h6v6l-16.3 2.2h-6zM1112.8 780l82.5 -9.3h6v6l-82.5 9.3h-6zM1195.3 770.7l44.7 -4.7h6v6l-44.7 4.7h-6zM1240 766l23.9 -2.2h6v6l-23.9 2.2h-6zM1263.9 763.8l68.8 -5.6h6v6l-68.8 5.6h-6zM1332.7 758.2l34.9 -2.3h6v6l-34.9 2.3h-6zM1367.6 755.9l27 -1.2h6v6l-27 1.2h-6zM1394.6 754.7l41.5 -1h6v6l-41.5 1h-6zM1436.1 753.7l49 -0.8h6v6l-49 0.8h-6zM1485.1 752.9l167 -2h6v6l-167 2h-6zM1652.1 750.9l328.9 -2.6h6v6l-328.9 2.6h-6zM1981 748.3l241 -2.3h6v6l-241 2.3h-6zM2222 746l72 -0.4h6v6l-72 0.4h-6zM2294 745.6l83 -0.3h6v6l-83 0.3h-6z" fill="#ac00da"/>
<path d="M626.5 47h6l0.2 71.5v6h-6l-0.2 -71.5zM626.7 118.5h6l0.7 38.5v6h-6l-0.7 -38.5zM627.4 157h6l2.1 71.9v6h-6l-2.1 -71.9zM629.5 228.9h6l3.3 128v6h-6l-3.3 -128zM632.8 356.9h6l5.9 175.8v6h-6l-5.9 -175.8zM638.7 532.7h6l3.4 77.9v6h-6l-3.4 -77.9zM642.1 610.6h6l6.2 123.4v6h-6l-6.2 -123.4zM648.3 734h6l5.4 93.3v6h-6l-5.4 -93.3zM653.7 827.3h6l1.8 26.9v6h-6l-1.8 -26.9zM655.5 854.2h6l1.9 23.9v6h-6l-1.9 -23.9zM657.4 878.1h6l2.1 23.4v6h-6l-2.1 -23.4zM659.5 901.5h6l2.8 26.4v6h-6l-2.8 -26.4zM662.3 927.9h6l2.5 21.8v6h-6l-2.5 -21.8zM664.8 949.7h6l2.1 15.4v6h-6l-2.1 -15.4zM666.9 965.1h6l3.3 19.7v6h-6l-3.3 -19.7zM670.2 984.8h6l7.8 42.3v6h-6l-7.8 -42.3zM678 1027.1h6l4.5 23v6h-6l-4.5 -23zM682.5 1050.1h6l3.2 13.7v6h-6l-3.2 -13.7zM685.7 1063.8h6l1.9 6.7v6h-6l-1.9 -6.7zM687.6 1070.5h6l2.2 5.5v6h-6l-2.2 -5.5zM689.8 1076h6l2.5 4.7v6h-6l-2.5 -4.7zM692.3 1080.7h6l2.8 3.9v6h-6l-2.8 -3.9zM695.1 1084.6h6l1.9 2.2v6h-6l-1.9 -2.2zM697 1086.8h6l2.1 2v6h-6l-2.1 -2zM699.1 1088.8h6l5.4 4.2v6h-6l-5.4 -4.2zM704.5 1093h6l5.2 3.4v6h-6l-5.2 -3.4zM709.7 1096.4h6l5.9 3v6h-6l-5.9 -3zM715.6 1099.4h6l3.4 1.4v6h-6l-3.4 -1.4zM719 1100.8l1.2 -1h6v6l-1.2 1h-6zM720.2 1099.8l7.2 -6.3h6v6l-7.2 6.3h-6zM727.4 1093.5l8.9 -8.4h6v6l-8.9 8.4h-6zM736.3 1085.1l9.3 -9.3h6v6l-9.3 9.3h-6zM745.6 1075.8l8.4 -8.8h6v6l-8.4 8.8h-6zM754 1067l15.3 -20.4h6v6l-15.3 20.4h-6zM769.3 1046.6l18.4 -23.7h6v6l-18.4 23.7h-6zM787.7 1022.9l7.8 -9.8h6v6l-7.8 9.8h-6zM795.5 1013.1l29.9 -35.5h6v6l-29.9 35.5h-6zM825.4 977.6l7.3 -8.2h6v6l-7.3 8.2h-6zM832.7 969.4l6.9 -7.3h6v6l-6.9 7.3h-6zM839.6 962.1l11.1 -10.8h6v6l-11.1 10.8h-6zM850.7 951.3l12.3 -11h6v6l-12.3 11h-6zM863 940.3l21.2 -17.5h6v6l-21.2 17.5h-6zM884.2 922.8l6.6 -5.3h6v6l-6.6 5.3h-6zM890.8 917.5l6.5 -4.7h6v6l-6.5 4.7h-6zM897.3 912.8l7.8 -5.4h6v6l-7.8 5.4h-6zM905.1 907.4l7.1 -4.6h6v6l-7.1 4.6h-6zM912.2 902.8l6.8 -4.2h6v6l-6.8 4.2h-6zM919 898.6l7 -3.8h6v6l-7 3.8h-6zM926 894.8l8 -4.1h6v6l-8 4.1h-6zM934 890.7l8.2 -3.9h6v6l-8.2 3.9h-6zM942.2 886.8l8.3 -3.5h6v6l-8.3 3.5h-6zM950.5 883.3l7.9 -3.1h6v6l-7.9 3.1h-6zM958.4 880.2l8 -2.8h6v6l-8 2.8h-6zM966.4 877.4l8.5 -2.7h6v6l-8.5 2.7h-6zM974.9 874.7l49.5 -14.5h6v6l-49.5 14.5h-6zM1024.4 860.2l8.2 -2.1h6v6l-8.2 2.1h-6zM1032.6 858.1l8.3 -1.9h6v6l-8.3 1.9h-6zM1040.9 856.2l9.3 -1.9h6v6l-9.3 1.9h-6zM1050.2 854.3l10.3 -1.8h6v6l-10.3 1.8h-6zM1060.5 852.5l20.8 -3.1h6v6l-20.8 3.1h-6zM1081.3 849.4l24.3 -3h6v6l-24.3 3h-6zM1105.6 846.4l85.5 -8.9h6v6l-85.5 8.9h-6zM1191.1 837.5l26.9 -2.4h6v6l-26.9 2.4h-6zM1218 835.1l19.4 -1.3h6v6l-19.4 1.3h-6zM1237.4 833.8l23.5 -1.1h6v6l-23.5 1.1h-6zM1260.9 832.7l78.9 -3.3h6v6l-78.9 3.3h-6zM1339.8 829.4l30.5 -0.9h6v6l-30.5 0.9h-6zM1370.3 828.5l49.5 -1.1h6v6l-49.5 1.1h-6zM1419.8 827.4l55.5 -1h6v6l-55.5 1h-6zM1475.3 826.4l142.9 -1.6h6v6l-142.9 1.6h-6zM1618.2 824.8l250.4 -2h6v6l-250.4 2h-6zM1868.6 822.8l282 -2.8h6v6l-282 2.8h-6zM2150.6 820l91.4 -0.5h6v6l-91.4 0.5h-6zM2242 819.5l135 -0.3h6v6l-135 0.3h-6z" fill="#00ffff"/>
<path d="M747.6 47h6l8.1 157.3v6h-6l-8.1 -157.3zM755.7 204.3h6l5.9 111.3v6h-6l-5.9 -111.3zM761.6 315.6h6l1.8 29.9v6h-6l-1.8 -29.9zM763.4 345.5h6l5.3 81.8v6h-6l-5.3 -81.8zM768.7 427.3h6l5.5 66.3v6h-6l-5.5 -66.3zM774.2 493.6h6l3.9 39.8v6h-6l-3.9 -39.8zM778.1 533.4h6l8.6 81v6h-6l-8.6 -81zM786.7 614.4h6l4.4 36.3v6h-6l-4.4 -36.3zM791.1 650.7h6l3.6 27.2v6h-6l-3.6 -27.2zM794.7 677.9h6l2.2 14.9v6h-6l-2.2 -14.9zM796.9 692.8h6l3 17.2v6h-6l-3 -17.2zM799.9 710h6l2.8 15.2v6h-6l-2.8 -15.2zM802.7 725.2h6l2.7 12.7v6h-6l-2.7 -12.7zM805.4 737.9h6l5.4 22.4v6h-6l-5.4 -22.4zM810.8 760.3h6l6.2 24.2v6h-6l-6.2 -24.2zM817 784.5h6l3.6 12.5v6h-6l-3.6 -12.5zM820.6 797h6l3.4 10.4v6h-6l-3.4 -10.4zM824 807.4h6l3.9 9.8v6h-6l-3.9 -9.8zM827.9 817.2h6l5.1 10.8v6h-6l-5.1 -10.8zM833 828h6l5.9 11.6v6h-6l-5.9 -11.6zM838.9 839.6h6l2.5 4.3v6h-6l-2.5 -4.3zM841.4 843.9h6l2.2 3.3v6h-6l-2.2 -3.3zM843.6 847.2h6l3.9 5.1v6h-6l-3.9 -5.1zM847.5 852.3h6l2.3 2.5v6h-6l-2.3 -2.5zM849.8 854.8h6l2.2 2v6h-6l-2.2 -2zM852 856.8h6l2.3 1.8v6h-6l-2.3 -1.8zM854.3 858.6h6l2.5 1.6v6h-6l-2.5 -1.6zM856.8 860.2h6l2.5 1.5v6h-6l-2.5 -1.5zM859.3 861.7h6l2.7 1.2v6h-6l-2.7 -1.2zM862 862.9h6l4.1 1.5v6h-6l-4.1 -1.5zM866.1 864.4h6l4.8 1.2v6h-6l-4.8 -1.2zM870.9 865.6h6l4.8 0.7v6h-6l-4.8 -0.7zM875.7 866.3h6l5 0.1v6h-6l-5 -0.1zM880.7 866.4l4.9 -0.2h6v6l-4.9 0.2h-6zM885.6 866.2l5.4 -0.8h6v6l-5.4 0.8h-6zM891 865.4l5.8 -1.4h6v6l-5.8 1.4h-6zM896.8 864l6.2 -1.8h6v6l-6.2 1.8h-6zM903 862.2l5.6 -2h6v6l-5.6 2h-6zM908.6 860.2l7 -2.8h6v6l-7 2.8h-6zM915.6 857.4l21 -9.3h6v6l-21 9.3h-6zM936.6 848.1l10.8 -5.2h6v6l-10.8 5.2h-6zM947.4 842.9l16.7 -9h6v6l-16.7 9h-6zM964.1 833.9l8.5 -4.3h6v6l-8.5 4.3h-6zM972.6 829.6l19 -8.9h6v6l-19 8.9h-6zM991.6 820.7l12 -5h6v6l-12 5h-6zM1003.6 815.7l28.6 -10.6h6v6l-28.6 10.6h-6zM1032.2 805.1l22.2 -7.6h6v6l-22.2 7.6h-6zM1054.4 797.5l21.5 -6.6h6v6l-21.5 6.6h-6zM1075.9 790.9l15.4 -4.4h6v6l-15.4 4.4h-6zM1091.3 786.5l10.2 -2.8h6v6l-10.2 2.8h-6zM1101.5 783.7l14.6 -3.3h6v6l-14.6 3.3h-6zM1116.1 780.4l18.6 -3.4h6v6l-18.6 3.4h-6zM1134.7 777l18.3 -2.9h6v6l-18.3 2.9h-6zM1153 774.1l48 -7.2h6v6l-48 7.2h-6zM1201 766.9l19.3 -2.7h6v6l-19.3 2.7h-6zM1220.3 764.2l17.9 -2.1h6v6l-17.9 2.1h-6zM1238.2 762.1l17.9 -1.9h6v6l-17.9 1.9h-6zM1256.1 760.2l18.4 -1.6h6v6l-18.4 1.6h-6zM1274.5 758.6l45.4 -3.3h6v6l-45.4 3.3h-6zM1319.9 755.3l23.9 -1.5h6v6l-23.9 1.5h-6zM1343.8 753.8l30.5 -1.7h6v6l-30.5 1.7h-6zM1374.3 752.1l28.9 -1.3h6v6l-28.9 1.3h-6zM1403.2 750.8l37 -1.3h6v6l-37 1.3h-6zM1440.2 749.5l35.5 -0.9h6v6l-35.5 0.9h-6zM1475.7 748.6l53.5 -1.1h6v6l-53.5 1.1h-6zM1529.2 747.5l58.9 -1h6v6l-58.9 1h-6zM1588.1 746.5l73 -1h6v6l-73 1h-6zM1661.1 745.5l98.5 -1h6v6l-98.5 1h-6zM1759.6 744.5l212 -1.6h6v6l-212 1.6h-6zM1971.6 742.9l140.9 -0.5h6v6l-140.9 0.5h-6zM2112.5 742.4l264.5 -0.4h6v6l-264.5 0.4h-6z" fill="#ff00ff"/>
</g>
<path d="M481 59 V115M481 1382 V1329.5M618.5 59 V90M618.5 1382 V1354M751.5 59 V115M751.5 1382 V1329.5M887.5 59 V90M887.5 1382 V1354M1023.7 59 V115M1023.7 1382 V1329.5M1159.6 59 V90M1159.6 1382 V1354M1292.7 59 V115M1292.7 1382 V1329.5M1428.5 59 V90M1428.5 1382 V1354M1563.5 59 V115M1563.5 1382 V1329.5M1698.7 59 V90M1698.7 1382 V1354M1833.9 59 V115M1833.9 1382 V1329.5M1969.4 59 V90M1969.4 1382 V1354M2106.2 59 V115M2106.2 1382 V1329.5M2238.7 59 V90M2238.7 1382 V1354M2373.7 59 V115M2373.7 1382 V1329.5M481 59 H539M2373.7 59 H2318M481 193.2 H512M2373.7 193.2 H2346M481 323.3 H512M2373.7 323.3 H2346M481 456.3 H512M2373.7 456.3 H2346M481 589 H539M2373.7 589 H2318M481 722.2 H512M2373.7 722.2 H2346M481 855 H512M2373.7 855 H2346M481 988 H512M2373.7 988 H2346M481 1120.7 H539M2373.7 1120.7 H2318M481 1250.6 H512M2373.7 1250.6 H2346M481 1382 H512M2373.7 1382 H2346" stroke="#000" stroke-width="3" fill="none"/>
<rect x="481" y="59" width="1892.7" height="1323" fill="none" stroke="#000" stroke-width="6"/>
<rect x="1804.6" y="96.2" width="426.8" height="633.6" fill="#fff" stroke="#000" stroke-width="6"/>
<path d="M1823 139.4 H1906.8" stroke="#000000" stroke-width="6.5" stroke-dasharray="43.3 19" fill="none"/>
<text x="1942" y="154.2" font-size="54" stroke="#fff" stroke-width="0.9" xml:space="preserve">Δϕ <tspan dy="4.5">=</tspan><tspan dx="-2.5" dy="-4.5"> 0<tspan dx="1" textLength="128.5" lengthAdjust="spacingAndGlyphs">   Deg</tspan></tspan></text>
<path d="M1823 207.2 H1906.8" stroke="#ff0000" stroke-width="6.5" fill="none"/>
<text x="1942" y="222" font-size="54" stroke="#fff" stroke-width="0.9" xml:space="preserve">Δϕ <tspan dy="4.5">=</tspan><tspan dx="-2.5" dy="-4.5"> 30</tspan></text>
<path d="M1823 275.2 H1906.8" stroke="#00ff00" stroke-width="6.5" stroke-dasharray="43.3 19" fill="none"/>
<text x="1942" y="290" font-size="54" stroke="#fff" stroke-width="0.9" xml:space="preserve">Δϕ <tspan dy="4.5">=</tspan><tspan dx="-2.5" dy="-4.5"> 45</tspan></text>
<path d="M1823 346.3 H1906.8" stroke="#0000ff" stroke-width="6.5" fill="none"/>
<text x="1942" y="361.1" font-size="54" stroke="#fff" stroke-width="0.9" xml:space="preserve">Δϕ <tspan dy="4.5">=</tspan><tspan dx="-2.5" dy="-4.5"> 60</tspan></text>
<path d="M1823 414.5 H1906.8" stroke="#000000" stroke-width="6.5" fill="none"/>
<text x="1942" y="429.3" font-size="54" stroke="#fff" stroke-width="0.9" xml:space="preserve">Δϕ <tspan dy="4.5">=</tspan><tspan dx="-2.5" dy="-4.5"> 90</tspan></text>
<path d="M1823 482.6 H1906.8" stroke="#ffa500" stroke-width="6.5" stroke-dasharray="43.3 19" fill="none"/>
<text x="1942" y="497.4" font-size="54" stroke="#fff" stroke-width="0.9" xml:space="preserve">Δϕ <tspan dy="4.5">=</tspan><tspan dx="-2.5" dy="-4.5"> 180</tspan></text>
<path d="M1823 550.3 H1906.8" stroke="#ac00da" stroke-width="6.5" fill="none"/>
<text x="1942" y="565.1" font-size="54" stroke="#fff" stroke-width="0.9" xml:space="preserve">Δϕ <tspan dy="4.5">=</tspan><tspan dx="-2.5" dy="-4.5"> 220</tspan></text>
<path d="M1823 618.4 H1906.8" stroke="#00ffff" stroke-width="6.5" fill="none"/>
<text x="1942" y="633.2" font-size="54" stroke="#fff" stroke-width="0.9" xml:space="preserve">Δϕ <tspan dy="4.5">=</tspan><tspan dx="-2.5" dy="-4.5"> 260</tspan></text>
<path d="M1823 686.4 H1906.8" stroke="#ff00ff" stroke-width="6.5" stroke-dasharray="43.3 19" fill="none"/>
<text x="1942" y="701.2" font-size="54" stroke="#fff" stroke-width="0.9" xml:space="preserve">Δϕ <tspan dy="4.5">=</tspan><tspan dx="-2.5" dy="-4.5"> 300</tspan></text>
<text transform="translate(469.8 80) scale(0.88 1.03)" text-anchor="end" font-size="77" letter-spacing="3.8" stroke="#fff" stroke-width="1.0">-34,180.0</text>
<text transform="translate(469.8 609.2) scale(0.88 1.03)" text-anchor="end" font-size="77" letter-spacing="3.8" stroke="#fff" stroke-width="1.0">-34,200.0</text>
<text transform="translate(469.8 1138.4) scale(0.88 1.03)" text-anchor="end" font-size="77" letter-spacing="3.8" stroke="#fff" stroke-width="1.0">-34,220.0</text>
<text transform="translate(486.2 1457.5) scale(0.88 1.03)" text-anchor="middle" font-size="77" letter-spacing="3.8" stroke="#fff" stroke-width="1.0">6.6</text>
<text transform="translate(756.6 1457.5) scale(0.88 1.03)" text-anchor="middle" font-size="77" letter-spacing="3.8" stroke="#fff" stroke-width="1.0">6.8</text>
<text transform="translate(1026.9 1457.5) scale(0.88 1.03)" text-anchor="middle" font-size="77" letter-spacing="3.8" stroke="#fff" stroke-width="1.0">7.0</text>
<text transform="translate(1297.3 1457.5) scale(0.88 1.03)" text-anchor="middle" font-size="77" letter-spacing="3.8" stroke="#fff" stroke-width="1.0">7.2</text>
<text transform="translate(1567.7 1457.5) scale(0.88 1.03)" text-anchor="middle" font-size="77" letter-spacing="3.8" stroke="#fff" stroke-width="1.0">7.4</text>
<text transform="translate(1838.1 1457.5) scale(0.88 1.03)" text-anchor="middle" font-size="77" letter-spacing="3.8" stroke="#fff" stroke-width="1.0">7.6</text>
<text transform="translate(2108.5 1457.5) scale(0.88 1.03)" text-anchor="middle" font-size="77" letter-spacing="3.8" stroke="#fff" stroke-width="1.0">7.8</text>
<text transform="translate(2378.9 1457.5) scale(0.88 1.03)" text-anchor="middle" font-size="77" letter-spacing="3.8" stroke="#fff" stroke-width="1.0">8.0</text>
<text x="1238.5" y="1552.4" font-size="108">d<tspan dx="3" dy="43" font-size="80">cm</tspan><tspan dx="2.5" dy="-43" font-size="106.5" xml:space="preserve"> [nm]</tspan></text>
<text transform="translate(133.3 1054) rotate(-90)" font-size="110" xml:space="preserve">Epot [kJ mol<tspan dy="-65" font-size="78" textLength="56" lengthAdjust="spacingAndGlyphs">-1</tspan><tspan dy="65" font-size="110">]</tspan></text>
</svg>
</body>
</html>
